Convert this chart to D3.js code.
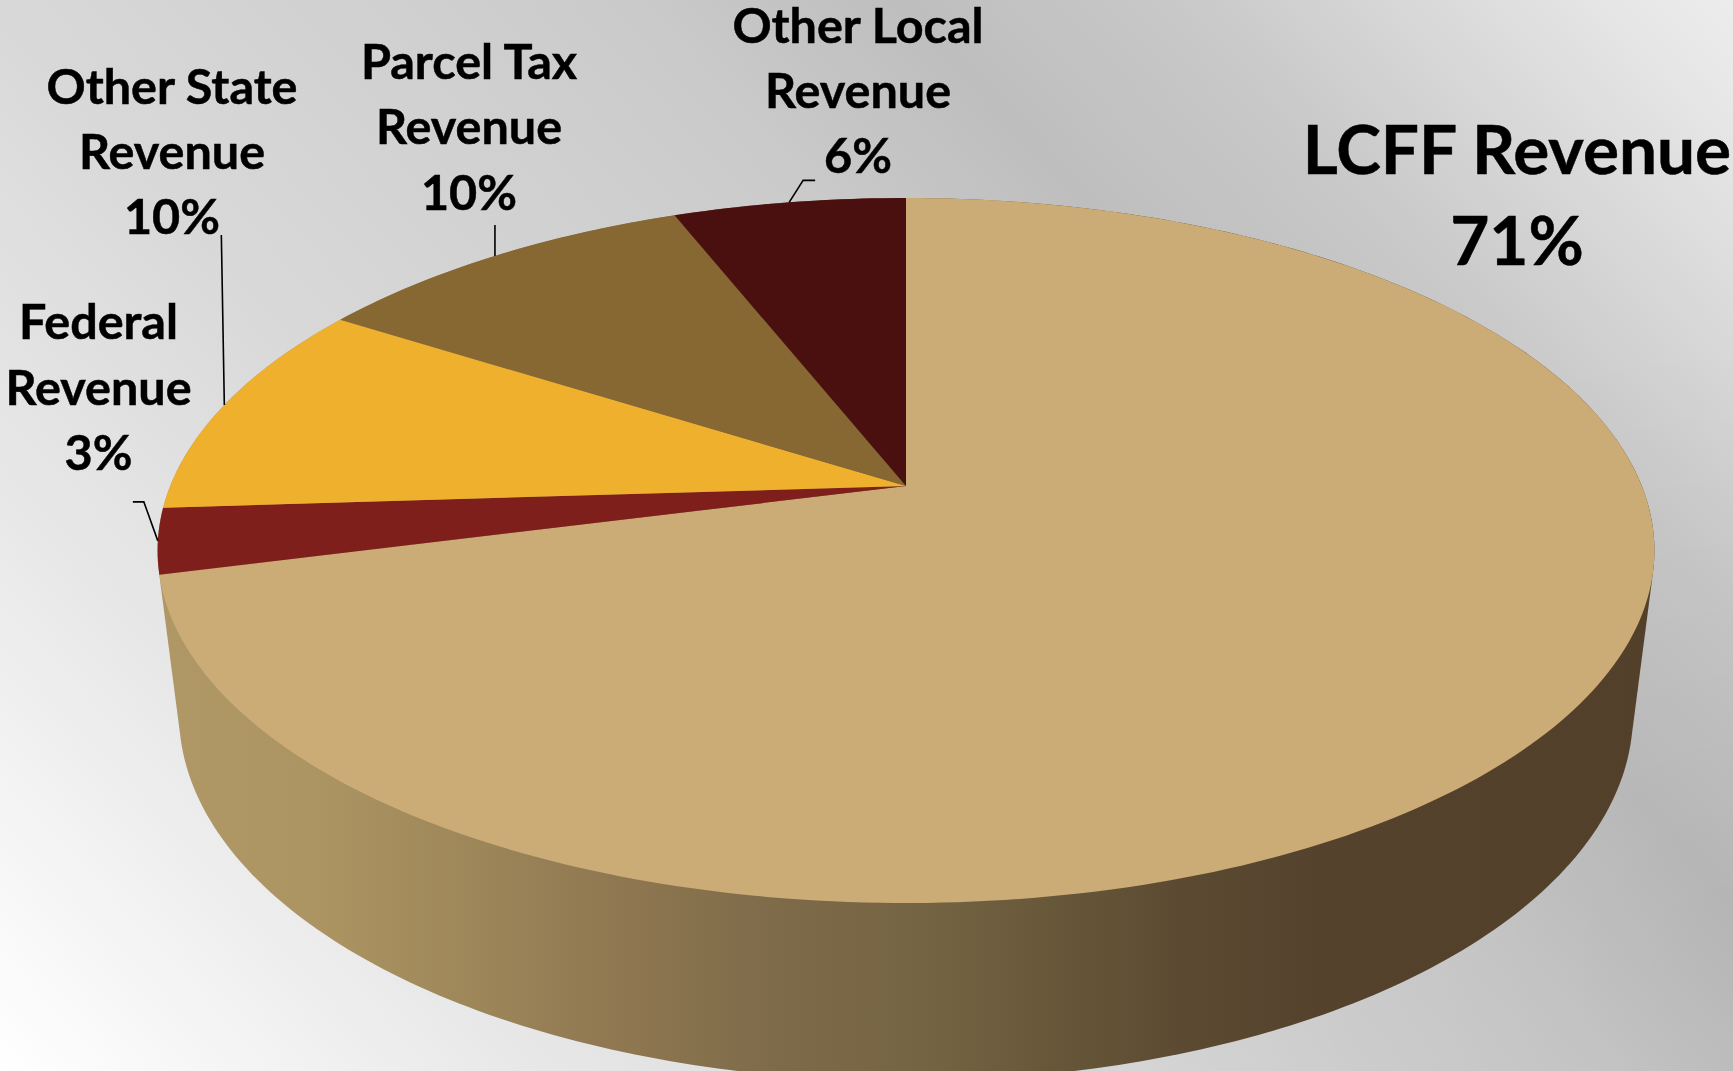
<!DOCTYPE html>
<html>
<head>
<meta charset="utf-8">
<script src="https://cdn.jsdelivr.net/npm/d3@7/dist/d3.min.js"></script>
<style>
  html, body { margin: 0; padding: 0; background: #fff; overflow: hidden; }
  svg { display: block; }
  text { font-family: Lato, "Open Sans", sans-serif; font-weight: 700; fill: #000; stroke: #000; stroke-width: 0.5px; text-anchor: middle; }
</style>
</head>
<body>
<svg id="chart" width="1733" height="1071"></svg>
<script>
// Revenue shares, clockwise from twelve o'clock.
const categories = ["LCFF Revenue", "Federal Revenue", "Other State Revenue", "Parcel Tax Revenue", "Other Local Revenue"];
const shares = [71, 3, 10, 10, 6];
const sliceColors = ["#cbab76", "#7f1f1c", "#efb02e", "#876833", "#4a100f"];
const labelLines = [["LCFF Revenue"], ["Federal", "Revenue"], ["Other State", "Revenue"], ["Parcel Tax", "Revenue"], ["Other Local", "Revenue"]];

const W = 1733, H = 1071;
const svg = d3.select("#chart");
const defs = svg.append("defs");

// Page backdrop: diagonal silver sheen from the lower left to the upper right.
const bg = defs.append("linearGradient").attr("id", "backdrop")
  .attr("gradientUnits", "userSpaceOnUse")
  .attr("x1", 0).attr("y1", H).attr("x2", 1468).attr("y2", -287);
[[0, "#ffffff"], [0.194, "#e8e8e8"], [0.364, "#d8d8d8"], [0.584, "#cbcbcb"], [0.694, "#bebebe"], [0.792, "#c8c8c8"], [0.966, "#e8e8e8"], [1, "#ececec"]]
  .forEach(([o, c]) => bg.append("stop").attr("offset", o).attr("stop-color", c));
svg.append("rect").attr("width", W).attr("height", H).attr("fill", "url(#backdrop)");

// Slightly darker wash towards the lower right corner.
const wash = defs.append("radialGradient").attr("id", "wash")
  .attr("gradientUnits", "userSpaceOnUse")
  .attr("cx", 1733).attr("cy", 950).attr("r", 620);
wash.append("stop").attr("offset", 0).attr("stop-color", "#000").attr("stop-opacity", 0.05);
wash.append("stop").attr("offset", 1).attr("stop-color", "#000").attr("stop-opacity", 0);
svg.append("rect").attr("width", W).attr("height", H).attr("fill", "url(#wash)");

// Perspective projection of the pie's unit circle on to the page.
const apex = { x: 906, y: 486 }, tilt = -0.183, spreadX = 735.8, spreadY = 340.7;
function rimPoint(angle, r = 1) {
  const u = Math.sin(angle) * r, v = -Math.cos(angle) * r, d = 1 + tilt * v;
  return [apex.x + spreadX * u / d, apex.y + spreadY * v / d];
}
const base = { x: 906, y: 714, rx: 727, ry: 367 };
const basePoint = a => [base.x + base.rx * Math.sin(a), base.y - base.ry * Math.cos(a)];

const arcs = d3.pie().value(d => d).sort(null)(shares);
const sweep = d3.range(0, 361, 1).map(d => d * Math.PI / 180);
const path = d3.line();

// Side wall: the hull of the top rim and the base rim.
const wall = defs.append("linearGradient").attr("id", "wall")
  .attr("gradientUnits", "userSpaceOnUse").attr("x1", 157).attr("y1", 0).attr("x2", 1654).attr("y2", 0);
[[0, "#b09766"], [0.1, "#ad9563"], [0.22, "#9c8558"], [0.32, "#8d7650"], [0.42, "#7d6a49"], [0.52, "#746342"], [0.6, "#675739"], [0.68, "#5c4b32"], [0.78, "#54422d"], [1, "#52402b"]]
  .forEach(([o, c]) => wall.append("stop").attr("offset", o).attr("stop-color", c));
const hull = d3.polygonHull(sweep.map(a => rimPoint(a)).concat(sweep.map(basePoint)));
svg.append("path").attr("d", path(hull) + "Z").attr("fill", "url(#wall)");

// Top face, one wedge per category.
svg.append("g").selectAll("path").data(arcs).join("path")
  .attr("fill", (d, i) => sliceColors[i])
  .attr("d", d => {
    const n = Math.max(2, Math.ceil((d.endAngle - d.startAngle) * 180 / Math.PI));
    const rim = d3.range(n + 1).map(i => rimPoint(d.startAngle + (d.endAngle - d.startAngle) * i / n));
    return path([[apex.x, apex.y], ...rim]) + "Z";
  });

// Leader lines run from each small wedge's rim midpoint towards its label.
const midAngle = d => (d.startAngle + d.endAngle) / 2;
const leaderBends = [null, [[-14, -39], [-25, -39]], [[-3, -170]], [[0, -31]], [[14, -22], [26, -22]]];
svg.append("g").selectAll("path").data(arcs.filter((d, i) => leaderBends[i])).join("path")
  .attr("fill", "none").attr("stroke", "#000").attr("stroke-width", 1.6)
  .attr("d", d => {
    const p = rimPoint(midAngle(d));
    return path([p, ...leaderBends[d.index].map(o => [p[0] + o[0], p[1] + o[1]])]);
  });

// Category labels with their percentages.
const labelAt = [[1517, 174, 67.5, 91], [98.5, 339, 48.5, 65.5], [172, 104, 48.5, 65], [469, 78.5, 48.5, 65.5], [858, 43, 48.5, 65]];
const labels = svg.append("g").selectAll("text").data(arcs).join("text")
  .attr("font-size", (d, i) => labelAt[i][2]);
labels.selectAll("tspan")
  .data((d, i) => labelLines[i].concat(shares[i] + "%").map(t => ({ t, i })))
  .join("tspan")
  .attr("x", d => labelAt[d.i][0])
  .attr("y", (d, j) => labelAt[d.i][1] + j * labelAt[d.i][3])
  .text(d => d.t);
</script>
</body>
</html>
